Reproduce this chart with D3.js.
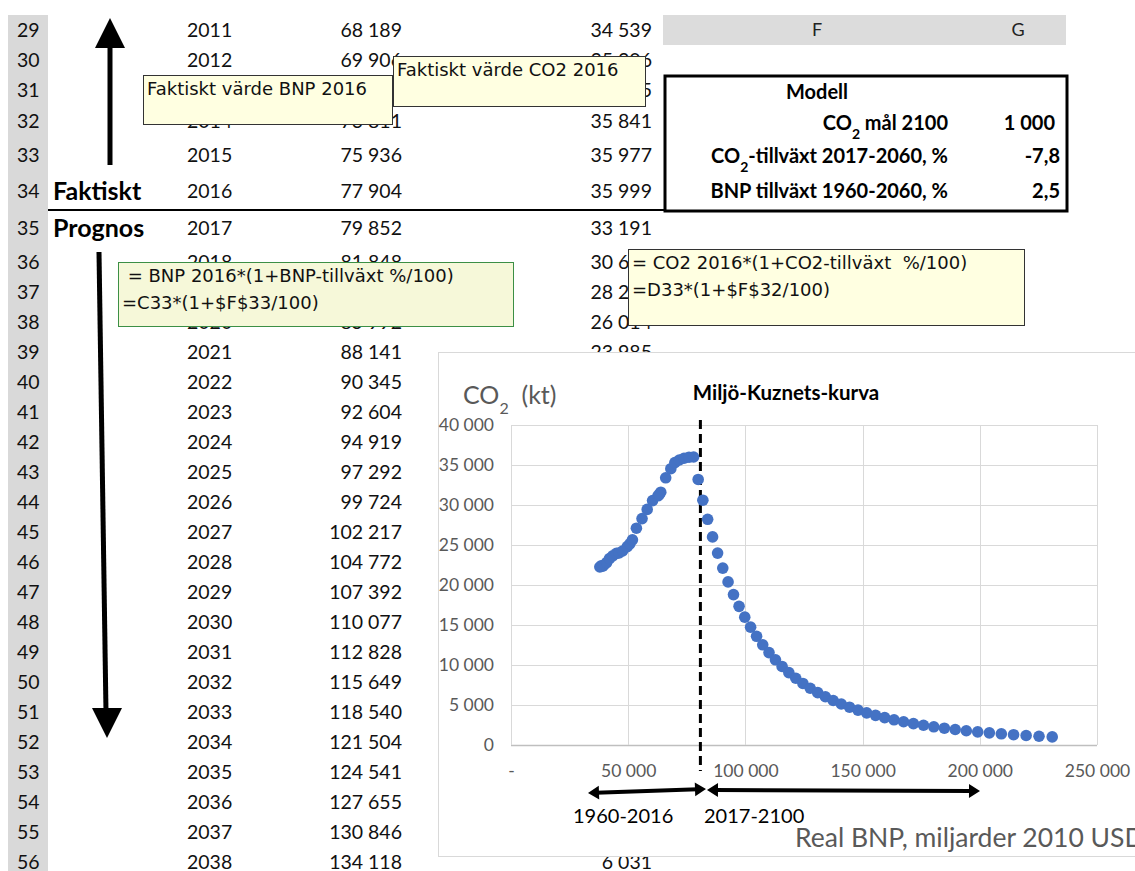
<!DOCTYPE html>
<html>
<head>
<meta charset="utf-8">
<script src="https://cdn.jsdelivr.net/npm/d3@7"></script>
<style>
  body { margin: 0; background: #fff; }
  svg { display: block; }
</style>
</head>
<body>
<script>
// ---- Data -------------------------------------------------------------
// Actual values 1990–2016: real GDP (billion 2010 USD) and CO2
const histYears = [1990,1991,1992,1993,1994,1995,1996,1997,1998,1999,2000,2001,2002,2003,2004,2005,2006,2007,2008,2009,2010,2011,2012,2013,2014,2015,2016];
const histBNP = [37900,38500,39100,39700,40800,42000,43400,45000,46100,47600,49600,50700,51800,53500,55900,58100,60400,62700,63900,63200,66000,68189,69906,71801,73811,75936,77904];
const histCO2 = [22250,22400,22350,22500,22800,23300,23650,23950,24000,24250,24800,25150,25650,27100,28300,29450,30550,31150,31600,31300,33400,34539,35306,35625,35841,35977,35999];

// Projection 2017–2060
const progYears = [2017,2018,2019,2020,2021,2022,2023,2024,2025,2026,2027,2028,2029,2030,2031,2032,2033,2034,2035,2036,2037,2038,2039,2040,2041,2042,2043,2044,2045,2046,2047,2048,2049,2050,2051,2052,2053,2054,2055,2056,2057,2058,2059,2060];
const progBNP = [79852,81848,83894,85992,88141,90345,92604,94919,97292,99724,102217,104772,107392,110077,112828,115649,118540,121504,124541,127655,130846,134118,137471,140908,144430,148041,151742,155536,159424,163410,167495,171682,175974,180374,184883,189505,194243,199099,204076,209178,214408,219768,225262,230894];
const progCO2 = [33191,30602,28215,26014,23985,22114,20389,18799,17333,15981,14734,13585,12525,11548,10648,9817,9051,8345,7694,7094,6541,6031,5560,5127,4727,4358,4018,3705,3416,3149,2904,2677,2468,2276,2098,1935,1784,1645,1516,1398,1289,1188,1096,1010];

// Spreadsheet rows shown, and the years they hold
const rowNumbers = [29,30,31,32,33,34,35,36,37,38,39,40,41,42,43,44,45,46,47,48,49,50,51,52,53,54,55,56];
const firstTableYear = 2011;

// Model parameters
const modelTitle = "Modell";
const modelLabels = ["CO|2| mål 2100", "CO|2|-tillväxt 2017-2060, %", "BNP tillväxt 1960-2060, %"];
const modelValues = [1000, -7.8, 2.5];
const modelDigits = [0, 1, 1];

// Chart axes
const xTicks = [0, 50000, 100000, 150000, 200000, 250000];
const yTicks = [0, 5000, 10000, 15000, 20000, 25000, 30000, 35000, 40000];
const dividerBNP = 80800;   // border between actual and projected values
const periodLabels = ["1960-2016", "2017-2100"];

// ---- Setup ------------------------------------------------------------
const W = 1135, H = 871;
const svg = d3.select("body").append("svg").attr("width", W).attr("height", H);

const se = d3.formatLocale({decimal: ",", thousands: " ", grouping: [3], currency: ["", ""], minus: "-"});
const fmtInt = se.format(",.0f");

const cellFont = "Lato, 'Open Sans', sans-serif";
const noteFont = "'DejaVu Sans', Verdana, sans-serif";

// renders "CO|2|..." with the middle part as subscript
function richText(sel, str, subSize) {
  const parts = str.split("|");
  parts.forEach((p, i) => {
    if (!p) return;
    const t = sel.append("tspan").text(p);
    if (i % 2 === 1) t.attr("font-size", subSize).attr("baseline-shift", "sub");
  });
}

// ---- Spreadsheet ------------------------------------------------------
const rowHeights = [30,30,30,32,36,37,37].concat(d3.range(21).map(() => 30));
const rowTops = [];
rowHeights.reduce((acc, h) => { rowTops.push(acc); return acc + h; }, 15);
const rowMid = i => rowTops[i] + rowHeights[i] / 2;

const allYears = histYears.concat(progYears);
const allBNP = histBNP.concat(progBNP);
const allCO2 = histCO2.concat(progCO2);
const start = allYears.indexOf(firstTableYear);
const rows = rowNumbers.map((n, i) => ({
  n, year: allYears[start + i], bnp: allBNP[start + i], co2: allCO2[start + i], i
}));

// row header column
svg.append("rect").attr("x", 8).attr("y", 15).attr("width", 40).attr("height", H - 15).attr("fill", "#d9d9d9");
// column header strip F / G
svg.append("rect").attr("x", 663).attr("y", 15).attr("width", 403).attr("height", 30).attr("fill", "#dcdcdc");
svg.append("text").attr("x", 817).attr("y", 30).attr("dy", "0.35em").attr("text-anchor", "middle")
  .attr("font-family", cellFont).attr("font-size", 18).attr("fill", "#222").text("F");
svg.append("text").attr("x", 1018).attr("y", 30).attr("dy", "0.35em").attr("text-anchor", "middle")
  .attr("font-family", cellFont).attr("font-size", 18).attr("fill", "#222").text("G");

const rowG = svg.append("g").attr("font-family", cellFont).attr("font-size", 19.5).attr("fill", "#111");
rowG.selectAll(".rn").data(rows).join("text").attr("class", "rn")
  .attr("x", 17).attr("y", d => rowMid(d.i)).attr("dy", "0.35em").text(d => d.n);
rowG.selectAll(".yr").data(rows).join("text").attr("class", "yr")
  .attr("x", 187).attr("y", d => rowMid(d.i)).attr("dy", "0.35em").text(d => d.year);
rowG.selectAll(".bnp").data(rows).join("text").attr("class", "bnp")
  .attr("x", 402).attr("y", d => rowMid(d.i)).attr("dy", "0.35em").attr("text-anchor", "end").text(d => fmtInt(d.bnp));
rowG.selectAll(".co2").data(rows).join("text").attr("class", "co2")
  .attr("x", 652).attr("y", d => rowMid(d.i)).attr("dy", "0.35em").attr("text-anchor", "end").text(d => fmtInt(d.co2));

// Faktiskt / Prognos labels and divider
const i2016 = rows.findIndex(r => r.year === 2016);
svg.append("text").attr("x", 53).attr("y", rowMid(i2016)).attr("dy", "0.35em")
  .attr("font-family", cellFont).attr("font-weight", "bold").attr("font-size", 25).text("Faktiskt");
svg.append("text").attr("x", 53).attr("y", rowMid(i2016 + 1)).attr("dy", "0.35em")
  .attr("font-family", cellFont).attr("font-weight", "bold").attr("font-size", 25).text("Prognos");
svg.append("line").attr("x1", 48).attr("x2", 664).attr("y1", rowTops[i2016 + 1]).attr("y2", rowTops[i2016 + 1])
  .attr("stroke", "#000").attr("stroke-width", 2);

// Model box
svg.append("rect").attr("x", 665).attr("y", 76).attr("width", 402).attr("height", 135)
  .attr("fill", "#fff").attr("stroke", "#000").attr("stroke-width", 3);
const mg = svg.append("g").attr("font-family", cellFont).attr("font-weight", "bold").attr("font-size", 20).attr("fill", "#000");
mg.append("text").attr("x", 817).attr("y", 92).attr("dy", "0.35em").attr("text-anchor", "middle").text(modelTitle);
const modelRowY = [123, 156, 191];
modelLabels.forEach((lab, i) => {
  const t = mg.append("text").attr("x", 948).attr("y", modelRowY[i]).attr("dy", "0.35em").attr("text-anchor", "end");
  richText(t, lab, 14);
  mg.append("text").attr("x", i === 0 ? 1055 : 1060).attr("y", modelRowY[i]).attr("dy", "0.35em").attr("text-anchor", "end")
    .text(se.format(",." + modelDigits[i] + "f")(modelValues[i]));
});

// Direction arrows along the rows
svg.append("line").attr("x1", 110).attr("y1", 165).attr("x2", 110).attr("y2", 44).attr("stroke", "#000").attr("stroke-width", 5);
svg.append("path").attr("d", "M95,48 L125,48 L110,18 Z").attr("fill", "#000");
svg.append("line").attr("x1", 99).attr("y1", 252).attr("x2", 106).attr("y2", 712).attr("stroke", "#000").attr("stroke-width", 5);
svg.append("path").attr("d", "M92,708 L122,708 L107,738 Z").attr("fill", "#000");

// Cell comments
const notes = [
  {x: 143, y: 75, w: 249, h: 49, stroke: "#333", fill: "#ffffe1", lines: ["Faktiskt värde BNP 2016"]},
  {x: 393, y: 56, w: 252, h: 50, stroke: "#333", fill: "#ffffe1", lines: ["Faktiskt värde CO2 2016"]},
  {x: 118, y: 262, w: 395, h: 64, stroke: "#3c8f45", fill: "#f6f8d9", lines: [" = BNP 2016*(1+BNP-tillväxt %/100)", "=C33*(1+$F$33/100)"]},
  {x: 628, y: 249, w: 396, h: 76, stroke: "#333", fill: "#ffffe1", lines: ["= CO2 2016*(1+CO2-tillväxt  %/100)", "=D33*(1+$F$32/100)"]}
];
notes.forEach(n => {
  const g = svg.append("g");
  g.append("rect").attr("x", n.x + 0.5).attr("y", n.y + 0.5).attr("width", n.w).attr("height", n.h)
    .attr("fill", n.fill).attr("stroke", n.stroke).attr("stroke-width", 1);
  n.lines.forEach((l, k) => {
    g.append("text").attr("x", n.x + 4).attr("y", n.y + 14 + k * 27).attr("dy", "0.35em")
      .attr("font-family", noteFont).attr("font-size", 18).attr("fill", "#111")
      .style("white-space", "pre").text(l);
  });
});

// ---- Chart ------------------------------------------------------------
const chart = svg.append("g");
chart.append("rect").attr("x", 438.5).attr("y", 352.5).attr("width", 720).attr("height", 504)
  .attr("fill", "#fff").attr("stroke", "#d9d9d9").attr("stroke-width", 1);

const x = d3.scaleLinear().domain([0, 250000]).range([511, 1097]);
const y = d3.scaleLinear().domain([0, 40000]).range([745, 425]);

// gridlines
chart.append("g").selectAll("line").data(yTicks).join("line")
  .attr("x1", x(0)).attr("x2", x(250000)).attr("y1", d => Math.round(y(d)) + 0.5).attr("y2", d => Math.round(y(d)) + 0.5)
  .attr("stroke", d => d === 0 ? "#bfbfbf" : "#d9d9d9").attr("stroke-width", d => d === 0 ? 1.5 : 1);
chart.append("g").selectAll("line").data(xTicks).join("line")
  .attr("x1", d => Math.round(x(d)) + 0.5).attr("x2", d => Math.round(x(d)) + 0.5).attr("y1", y(40000)).attr("y2", y(0))
  .attr("stroke", "#d9d9d9").attr("stroke-width", 1);

// axes (labels only)
const yAxis = chart.append("g").attr("transform", `translate(${x(0)},0)`)
  .call(d3.axisLeft(y).tickValues(yTicks).tickSize(0).tickPadding(17).tickFormat(fmtInt));
const xAxis = chart.append("g").attr("transform", `translate(0,${y(0)})`)
  .call(d3.axisBottom(x).tickValues(xTicks).tickSize(0).tickPadding(20).tickFormat(d => d === 0 ? "-" : fmtInt(d)));
[yAxis, xAxis].forEach(a => {
  a.select(".domain").remove();
  a.selectAll("text").attr("font-family", cellFont).attr("font-size", 17.5).attr("fill", "#595959");
});

// divider between actual and projected
chart.append("line").attr("x1", x(dividerBNP)).attr("x2", x(dividerBNP)).attr("y1", 420).attr("y2", 771)
  .attr("stroke", "#000").attr("stroke-width", 3).attr("stroke-dasharray", "9,5");

// points
const pts = allBNP.map((b, i) => ({bnp: b, co2: allCO2[i]}));
chart.append("g").selectAll("circle").data(pts).join("circle")
  .attr("cx", d => x(d.bnp)).attr("cy", d => y(d.co2)).attr("r", 5.8).attr("fill", "#4472c4");

// titles
chart.append("text").attr("x", 786).attr("y", 393).attr("dy", "0.35em").attr("text-anchor", "middle")
  .attr("font-family", cellFont).attr("font-weight", "bold").attr("font-size", 20.5).attr("fill", "#000")
  .text("Miljö-Kuznets-kurva");
const yt = chart.append("text").attr("x", 463).attr("y", 395).attr("dy", "0.35em")
  .attr("font-family", cellFont).attr("font-size", 25).attr("fill", "#595959").style("white-space", "pre");
richText(yt, "CO|2|  (kt)", 16);
chart.append("text").attr("x", 795).attr("y", 838).attr("dy", "0.35em")
  .attr("font-family", cellFont).attr("font-size", 26.5).attr("fill", "#595959")
  .text("Real BNP, miljarder 2010 USD");

// period arrows under the axis
function dblArrow(x1, y1, x2, y2) {
  const a = Math.atan2(y2 - y1, x2 - x1), L = 11, w = 7;
  const head = (px, py, dir) => {
    const ux = Math.cos(a) * dir, uy = Math.sin(a) * dir;
    return `M${px},${py} L${px - ux * L - uy * w},${py - uy * L + ux * w} L${px - ux * L + uy * w},${py - uy * L - ux * w} Z`;
  };
  chart.append("line").attr("x1", x1 + Math.cos(a) * 8).attr("y1", y1 + Math.sin(a) * 8)
    .attr("x2", x2 - Math.cos(a) * 8).attr("y2", y2 - Math.sin(a) * 8).attr("stroke", "#000").attr("stroke-width", 4);
  chart.append("path").attr("d", head(x2, y2, 1) + head(x1, y1, -1)).attr("fill", "#000");
}
dblArrow(588, 793, 706, 789);
dblArrow(707, 790, 980, 791);
chart.append("text").attr("x", 573).attr("y", 816).attr("dy", "0.35em")
  .attr("font-family", cellFont).attr("font-size", 20).attr("fill", "#000").text(periodLabels[0]);
chart.append("text").attr("x", 704).attr("y", 816).attr("dy", "0.35em")
  .attr("font-family", cellFont).attr("font-size", 20).attr("fill", "#000").text(periodLabels[1]);
</script>
</body>
</html>
